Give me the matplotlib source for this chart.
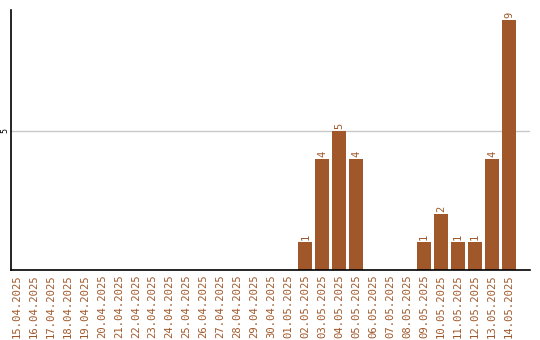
import matplotlib
matplotlib.use("Agg")
import matplotlib.pyplot as plt

dates = ["15.04.2025", "16.04.2025", "17.04.2025", "18.04.2025", "19.04.2025",
         "20.04.2025", "21.04.2025", "22.04.2025", "23.04.2025", "24.04.2025",
         "25.04.2025", "26.04.2025", "27.04.2025", "28.04.2025", "29.04.2025",
         "30.04.2025", "01.05.2025", "02.05.2025", "03.05.2025", "04.05.2025",
         "05.05.2025", "06.05.2025", "07.05.2025", "08.05.2025", "09.05.2025",
         "10.05.2025", "11.05.2025", "12.05.2025", "13.05.2025", "14.05.2025"]
values = [0, 0, 0, 0, 0, 0, 0, 0, 0, 0, 0, 0, 0, 0, 0, 0, 0,
          1, 4, 5, 4, 0, 0, 0, 1, 2, 1, 1, 4, 9]
yticks = [5]

color = "#a0582a"
font = "DejaVu Sans Mono"

fig = plt.figure(figsize=(5.4, 3.4), dpi=100)
ax = fig.add_axes([11/540, 70/340, 519/540, 260/340])
x = list(range(len(dates)))
ax.bar(x, values, width=14/17, color=color, zorder=3)
for xi, v in zip(x, values):
    if v > 0:
        ax.text(xi, v + 0.08, str(v), rotation=90, ha="center", va="bottom",
                color=color, fontsize=7.5, family=font)
ax.set_xlim(-0.35, 30.24)
ax.set_ylim(0, 9.35)
ax.set_yticks(yticks)
ax.set_yticklabels([str(t) for t in yticks], rotation=90, va="center",
                   fontsize=6, family=font, color="black")
ax.set_xticks(x)
ax.set_xticklabels(dates, rotation=90, fontsize=7.6, family=font, color=color)
ax.tick_params(axis="x", length=0, pad=3)
ax.tick_params(axis="y", length=0, pad=1)
ax.yaxis.grid(True, color="#c8c8c8", linewidth=1, zorder=0)
for s in ["top", "right"]:
    ax.spines[s].set_visible(False)
for s in ["left", "bottom"]:
    ax.spines[s].set_color("black")
    ax.spines[s].set_linewidth(1.2)
    ax.spines[s].set_zorder(4)
fig.savefig("out.png", dpi=100)
